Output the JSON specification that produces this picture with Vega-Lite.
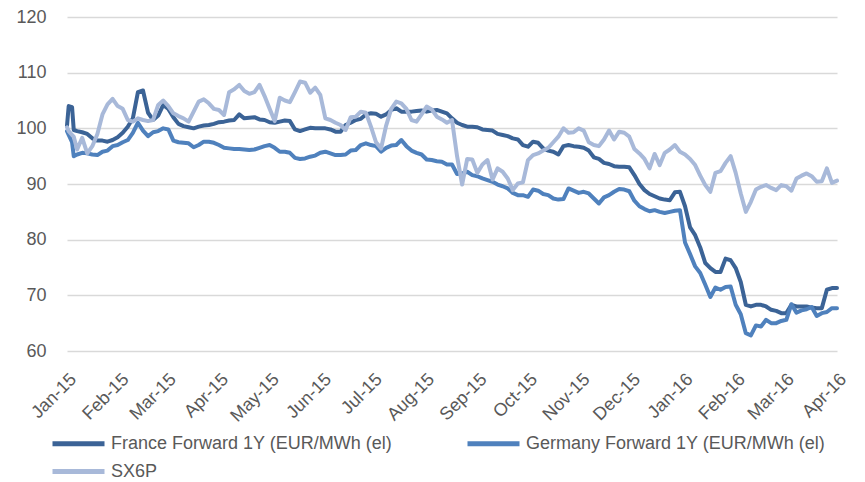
{
  "$schema": "https://vega.github.io/schema/vega-lite/v6.json",
  "width": 770,
  "height": 334,
  "autosize": {"type": "none"},
  "padding": {"left": 67, "top": 17, "right": 28, "bottom": 131},
  "background": "white",
  "config": {
    "view": {"stroke": null},
    "font": "Liberation Sans",
    "legend": {
      "title": null,
      "orient": "none",
      "direction": "horizontal",
      "columnPadding": 64,
      "padding": 0,
      "symbolType": "stroke",
      "symbolSize": 2704,
      "symbolStrokeWidth": 5,
      "labelOffset": 4,
      "labelFontSize": 18,
      "labelColor": "#595959",
      "labelLimit": 0
    }
  },
  "data": {
    "values": [
      {"d":"2015-01-01","fr":100.5,"de":99.5,"sx":100.2},
      {"d":"2015-01-02","fr":104.0,"de":98.8,"sx":99.5},
      {"d":"2015-01-04","fr":103.8,"de":97.5,"sx":98.8},
      {"d":"2015-01-05","fr":99.7,"de":95.0,"sx":98.5},
      {"d":"2015-01-07","fr":99.5,"de":95.3,"sx":96.2},
      {"d":"2015-01-10","fr":99.3,"de":95.6,"sx":98.3},
      {"d":"2015-01-13","fr":99.0,"de":95.5,"sx":95.5},
      {"d":"2015-01-16","fr":98.2,"de":95.3,"sx":96.8},
      {"d":"2015-01-19","fr":97.8,"de":95.2,"sx":99.0},
      {"d":"2015-01-22","fr":97.8,"de":95.8,"sx":102.5},
      {"d":"2015-01-25","fr":97.6,"de":96.0,"sx":104.3},
      {"d":"2015-01-28","fr":97.9,"de":96.8,"sx":105.3},
      {"d":"2015-01-31","fr":98.4,"de":97.0,"sx":104.0},
      {"d":"2015-02-03","fr":99.2,"de":97.5,"sx":103.5},
      {"d":"2015-02-06","fr":100.3,"de":97.9,"sx":101.5},
      {"d":"2015-02-09","fr":101.8,"de":99.2,"sx":101.2},
      {"d":"2015-02-12","fr":106.5,"de":101.0,"sx":101.8},
      {"d":"2015-02-15","fr":106.8,"de":99.6,"sx":101.5},
      {"d":"2015-02-18","fr":102.8,"de":98.6,"sx":101.3},
      {"d":"2015-02-21","fr":101.5,"de":99.3,"sx":101.5},
      {"d":"2015-02-24","fr":102.3,"de":99.5,"sx":104.2},
      {"d":"2015-02-27","fr":104.2,"de":100.0,"sx":105.0},
      {"d":"2015-03-02","fr":103.5,"de":99.8,"sx":104.0},
      {"d":"2015-03-05","fr":102.0,"de":97.8,"sx":102.7},
      {"d":"2015-03-08","fr":100.8,"de":97.5,"sx":102.2},
      {"d":"2015-03-11","fr":100.4,"de":97.4,"sx":101.8},
      {"d":"2015-03-14","fr":100.2,"de":97.3,"sx":101.2},
      {"d":"2015-03-17","fr":100.0,"de":96.6,"sx":103.0},
      {"d":"2015-03-20","fr":100.3,"de":97.0,"sx":104.8},
      {"d":"2015-03-23","fr":100.5,"de":97.6,"sx":105.2},
      {"d":"2015-03-26","fr":100.6,"de":97.6,"sx":104.5},
      {"d":"2015-03-29","fr":100.8,"de":97.4,"sx":103.5},
      {"d":"2015-04-01","fr":101.1,"de":97.0,"sx":103.3},
      {"d":"2015-04-04","fr":101.2,"de":96.5,"sx":102.4},
      {"d":"2015-04-07","fr":101.4,"de":96.4,"sx":106.5},
      {"d":"2015-04-10","fr":101.5,"de":96.3,"sx":107.0},
      {"d":"2015-04-13","fr":102.5,"de":96.3,"sx":107.8},
      {"d":"2015-04-16","fr":101.8,"de":96.2,"sx":106.7},
      {"d":"2015-04-19","fr":101.9,"de":96.1,"sx":106.2},
      {"d":"2015-04-22","fr":102.0,"de":96.2,"sx":106.5},
      {"d":"2015-04-25","fr":101.6,"de":96.5,"sx":107.8},
      {"d":"2015-04-28","fr":101.5,"de":96.8,"sx":105.8},
      {"d":"2015-05-01","fr":101.1,"de":97.0,"sx":103.5},
      {"d":"2015-05-04","fr":101.0,"de":96.5,"sx":101.3},
      {"d":"2015-05-07","fr":101.2,"de":95.8,"sx":105.5},
      {"d":"2015-05-10","fr":101.4,"de":95.8,"sx":105.0},
      {"d":"2015-05-13","fr":101.3,"de":95.6,"sx":104.7},
      {"d":"2015-05-16","fr":99.8,"de":94.7,"sx":106.5},
      {"d":"2015-05-19","fr":99.5,"de":94.5,"sx":108.4},
      {"d":"2015-05-22","fr":99.8,"de":94.6,"sx":108.2},
      {"d":"2015-05-25","fr":100.1,"de":94.9,"sx":106.4},
      {"d":"2015-05-28","fr":100.0,"de":95.1,"sx":107.3},
      {"d":"2015-05-31","fr":100.0,"de":95.6,"sx":106.0},
      {"d":"2015-06-03","fr":100.0,"de":95.8,"sx":101.8},
      {"d":"2015-06-06","fr":99.8,"de":95.5,"sx":101.5},
      {"d":"2015-06-09","fr":99.4,"de":95.2,"sx":101.0},
      {"d":"2015-06-12","fr":99.4,"de":95.2,"sx":100.6},
      {"d":"2015-06-15","fr":100.6,"de":95.3,"sx":99.7},
      {"d":"2015-06-18","fr":101.0,"de":96.0,"sx":102.0},
      {"d":"2015-06-21","fr":101.5,"de":96.1,"sx":102.1},
      {"d":"2015-06-24","fr":101.7,"de":97.0,"sx":103.0},
      {"d":"2015-06-27","fr":102.5,"de":97.3,"sx":102.8},
      {"d":"2015-06-30","fr":102.7,"de":97.0,"sx":100.3},
      {"d":"2015-07-03","fr":102.6,"de":96.8,"sx":97.5},
      {"d":"2015-07-06","fr":102.1,"de":95.8,"sx":96.4},
      {"d":"2015-07-09","fr":102.5,"de":96.5,"sx":100.5},
      {"d":"2015-07-12","fr":103.3,"de":96.9,"sx":103.5},
      {"d":"2015-07-15","fr":103.6,"de":97.0,"sx":104.8},
      {"d":"2015-07-18","fr":103.0,"de":97.9,"sx":104.5},
      {"d":"2015-07-21","fr":103.0,"de":96.8,"sx":103.5},
      {"d":"2015-07-24","fr":103.0,"de":96.0,"sx":101.5},
      {"d":"2015-07-27","fr":103.1,"de":95.6,"sx":101.2},
      {"d":"2015-07-30","fr":103.2,"de":95.3,"sx":102.5},
      {"d":"2015-08-02","fr":103.0,"de":94.4,"sx":103.9},
      {"d":"2015-08-05","fr":103.2,"de":94.3,"sx":103.4},
      {"d":"2015-08-08","fr":103.3,"de":94.1,"sx":102.1},
      {"d":"2015-08-11","fr":103.0,"de":94.0,"sx":101.6},
      {"d":"2015-08-14","fr":102.7,"de":93.5,"sx":101.0},
      {"d":"2015-08-17","fr":101.8,"de":93.5,"sx":101.5},
      {"d":"2015-08-20","fr":101.0,"de":91.8,"sx":95.0},
      {"d":"2015-08-23","fr":100.6,"de":91.9,"sx":89.9},
      {"d":"2015-08-26","fr":100.3,"de":92.2,"sx":94.5},
      {"d":"2015-08-29","fr":100.3,"de":91.6,"sx":94.4},
      {"d":"2015-09-01","fr":100.2,"de":91.4,"sx":92.0},
      {"d":"2015-09-04","fr":99.8,"de":91.0,"sx":93.5},
      {"d":"2015-09-07","fr":99.7,"de":90.7,"sx":94.3},
      {"d":"2015-09-10","fr":99.6,"de":90.4,"sx":90.8},
      {"d":"2015-09-13","fr":99.0,"de":89.9,"sx":92.8},
      {"d":"2015-09-16","fr":98.8,"de":89.6,"sx":92.2},
      {"d":"2015-09-19","fr":98.6,"de":89.2,"sx":91.0},
      {"d":"2015-09-22","fr":98.2,"de":88.4,"sx":88.9},
      {"d":"2015-09-25","fr":98.0,"de":88.0,"sx":90.1},
      {"d":"2015-09-28","fr":97.0,"de":88.0,"sx":90.3},
      {"d":"2015-10-01","fr":96.7,"de":87.7,"sx":94.3},
      {"d":"2015-10-04","fr":97.6,"de":89.0,"sx":95.2},
      {"d":"2015-10-07","fr":97.4,"de":88.8,"sx":95.5},
      {"d":"2015-10-10","fr":96.4,"de":88.2,"sx":96.0},
      {"d":"2015-10-13","fr":96.0,"de":88.0,"sx":96.5},
      {"d":"2015-10-16","fr":95.8,"de":87.4,"sx":97.5},
      {"d":"2015-10-19","fr":95.3,"de":87.2,"sx":98.5},
      {"d":"2015-10-22","fr":96.8,"de":87.3,"sx":100.0},
      {"d":"2015-10-25","fr":97.0,"de":89.2,"sx":99.2},
      {"d":"2015-10-28","fr":96.8,"de":88.8,"sx":99.3},
      {"d":"2015-10-31","fr":96.7,"de":88.4,"sx":100.0},
      {"d":"2015-11-03","fr":96.5,"de":88.6,"sx":99.6},
      {"d":"2015-11-06","fr":96.0,"de":88.3,"sx":97.5},
      {"d":"2015-11-09","fr":94.8,"de":87.4,"sx":97.0},
      {"d":"2015-11-12","fr":94.5,"de":86.5,"sx":96.8},
      {"d":"2015-11-15","fr":93.8,"de":87.6,"sx":98.0},
      {"d":"2015-11-18","fr":93.6,"de":88.0,"sx":99.6},
      {"d":"2015-11-21","fr":93.2,"de":88.6,"sx":98.0},
      {"d":"2015-11-24","fr":93.1,"de":89.1,"sx":99.4},
      {"d":"2015-11-27","fr":93.1,"de":89.0,"sx":99.2},
      {"d":"2015-11-30","fr":93.0,"de":88.7,"sx":98.5},
      {"d":"2015-12-03","fr":91.6,"de":87.0,"sx":96.3},
      {"d":"2015-12-06","fr":90.0,"de":86.0,"sx":95.5},
      {"d":"2015-12-09","fr":88.9,"de":85.5,"sx":94.5},
      {"d":"2015-12-12","fr":88.2,"de":85.1,"sx":92.8},
      {"d":"2015-12-15","fr":87.8,"de":85.3,"sx":95.4},
      {"d":"2015-12-18","fr":87.4,"de":85.0,"sx":93.4},
      {"d":"2015-12-21","fr":87.2,"de":84.8,"sx":95.6},
      {"d":"2015-12-24","fr":87.1,"de":85.0,"sx":96.2},
      {"d":"2015-12-27","fr":88.5,"de":85.2,"sx":97.0},
      {"d":"2015-12-30","fr":88.6,"de":85.3,"sx":95.8},
      {"d":"2016-01-02","fr":86.0,"de":79.5,"sx":95.3},
      {"d":"2016-01-05","fr":82.2,"de":77.4,"sx":94.5},
      {"d":"2016-01-08","fr":80.8,"de":75.2,"sx":93.4},
      {"d":"2016-01-11","fr":78.6,"de":74.0,"sx":91.5},
      {"d":"2016-01-14","fr":75.8,"de":71.9,"sx":89.8},
      {"d":"2016-01-17","fr":74.9,"de":69.7,"sx":88.6},
      {"d":"2016-01-20","fr":74.2,"de":71.4,"sx":92.0},
      {"d":"2016-01-23","fr":74.2,"de":71.0,"sx":92.3},
      {"d":"2016-01-26","fr":76.6,"de":71.5,"sx":93.8},
      {"d":"2016-01-29","fr":76.3,"de":71.6,"sx":95.0},
      {"d":"2016-02-01","fr":74.9,"de":68.3,"sx":92.0},
      {"d":"2016-02-04","fr":72.4,"de":66.6,"sx":88.3},
      {"d":"2016-02-07","fr":68.3,"de":63.2,"sx":85.0},
      {"d":"2016-02-10","fr":68.0,"de":62.8,"sx":86.8},
      {"d":"2016-02-13","fr":68.3,"de":64.6,"sx":89.0},
      {"d":"2016-02-16","fr":68.3,"de":64.4,"sx":89.5},
      {"d":"2016-02-19","fr":68.0,"de":65.6,"sx":89.8},
      {"d":"2016-02-22","fr":67.4,"de":65.0,"sx":89.3},
      {"d":"2016-02-25","fr":67.2,"de":65.0,"sx":88.9},
      {"d":"2016-02-28","fr":66.8,"de":65.4,"sx":89.8},
      {"d":"2016-03-02","fr":66.8,"de":65.6,"sx":89.6},
      {"d":"2016-03-05","fr":68.3,"de":68.4,"sx":88.8},
      {"d":"2016-03-08","fr":68.0,"de":66.9,"sx":91.0},
      {"d":"2016-03-11","fr":68.0,"de":67.3,"sx":91.5},
      {"d":"2016-03-14","fr":68.0,"de":67.5,"sx":91.9},
      {"d":"2016-03-17","fr":67.8,"de":67.9,"sx":91.4},
      {"d":"2016-03-20","fr":67.7,"de":66.3,"sx":90.4},
      {"d":"2016-03-23","fr":67.7,"de":66.8,"sx":90.5},
      {"d":"2016-03-26","fr":71.0,"de":67.0,"sx":92.8},
      {"d":"2016-03-29","fr":71.3,"de":67.7,"sx":90.2},
      {"d":"2016-04-01","fr":71.3,"de":67.7,"sx":90.6}
    ]
  },
  "transform": [
    {"fold": ["fr", "de", "sx"], "as": ["series", "value"]}
  ],
  "encoding": {
    "x": {
      "field": "d",
      "type": "temporal",
      "scale": {
        "type": "utc",
        "domain": [
          {"year": 2015, "month": 1, "date": 1, "utc": true},
          {"year": 2016, "month": 4, "date": 1, "utc": true}
        ]
      },
      "axis": {
        "title": null,
        "grid": false,
        "domain": false,
        "ticks": false,
        "tickSize": 0,
        "labelExpr": "utcFormat(datum.value, '%b-%y')",
        "values": [
          {"year": 2015, "month": 1, "date": 1, "utc": true},
          {"year": 2015, "month": 2, "date": 1, "utc": true},
          {"year": 2015, "month": 3, "date": 1, "utc": true},
          {"year": 2015, "month": 4, "date": 1, "utc": true},
          {"year": 2015, "month": 5, "date": 1, "utc": true},
          {"year": 2015, "month": 6, "date": 1, "utc": true},
          {"year": 2015, "month": 7, "date": 1, "utc": true},
          {"year": 2015, "month": 8, "date": 1, "utc": true},
          {"year": 2015, "month": 9, "date": 1, "utc": true},
          {"year": 2015, "month": 10, "date": 1, "utc": true},
          {"year": 2015, "month": 11, "date": 1, "utc": true},
          {"year": 2015, "month": 12, "date": 1, "utc": true},
          {"year": 2016, "month": 1, "date": 1, "utc": true},
          {"year": 2016, "month": 2, "date": 1, "utc": true},
          {"year": 2016, "month": 3, "date": 1, "utc": true},
          {"year": 2016, "month": 4, "date": 1, "utc": true}
        ],
        "labelAngle": -45,
        "labelAlign": "right",
        "labelBaseline": "top",
        "labelPadding": 19,
        "labelFontSize": 18,
        "labelColor": "#595959",
        "labelOverlap": false,
        "labelBound": false,
        "labelFlush": false
      }
    },
    "y": {
      "field": "value",
      "type": "quantitative",
      "scale": {"domain": [60, 120], "zero": false, "nice": false},
      "axis": {
        "title": null,
        "values": [60, 70, 80, 90, 100, 110, 120],
        "grid": true,
        "gridColor": "#D9D9D9",
        "gridWidth": 1.3,
        "domain": false,
        "ticks": false,
        "tickSize": 0,
        "labelPadding": 21,
        "labelFontSize": 18,
        "labelColor": "#595959"
      }
    }
  },
  "layer": [
    {
      "transform": [{"filter": "datum.series != 'sx'"}],
      "mark": {"type": "line", "strokeWidth": 4, "strokeJoin": "round", "strokeCap": "round"},
      "encoding": {
        "color": {
          "field": "series",
          "type": "nominal",
          "scale": {"domain": ["fr", "de"], "range": ["#3B6396", "#4F81BD"]},
          "legend": {
            "legendX": -17,
            "legendY": 398,
            "labelExpr": "datum.label == 'fr' ? 'France Forward 1Y (EUR/MWh (el)' : 'Germany Forward 1Y (EUR/MWh (el)'"
          }
        }
      }
    },
    {
      "transform": [{"filter": "datum.series == 'sx'"}],
      "mark": {"type": "line", "strokeWidth": 4, "strokeJoin": "round", "strokeCap": "round"},
      "encoding": {
        "stroke": {
          "field": "series",
          "type": "nominal",
          "scale": {"domain": ["sx"], "range": ["#A8B9D9"]},
          "legend": {
            "legendX": -17,
            "legendY": 426,
            "labelExpr": "'SX6P'"
          }
        }
      }
    }
  ]
}
